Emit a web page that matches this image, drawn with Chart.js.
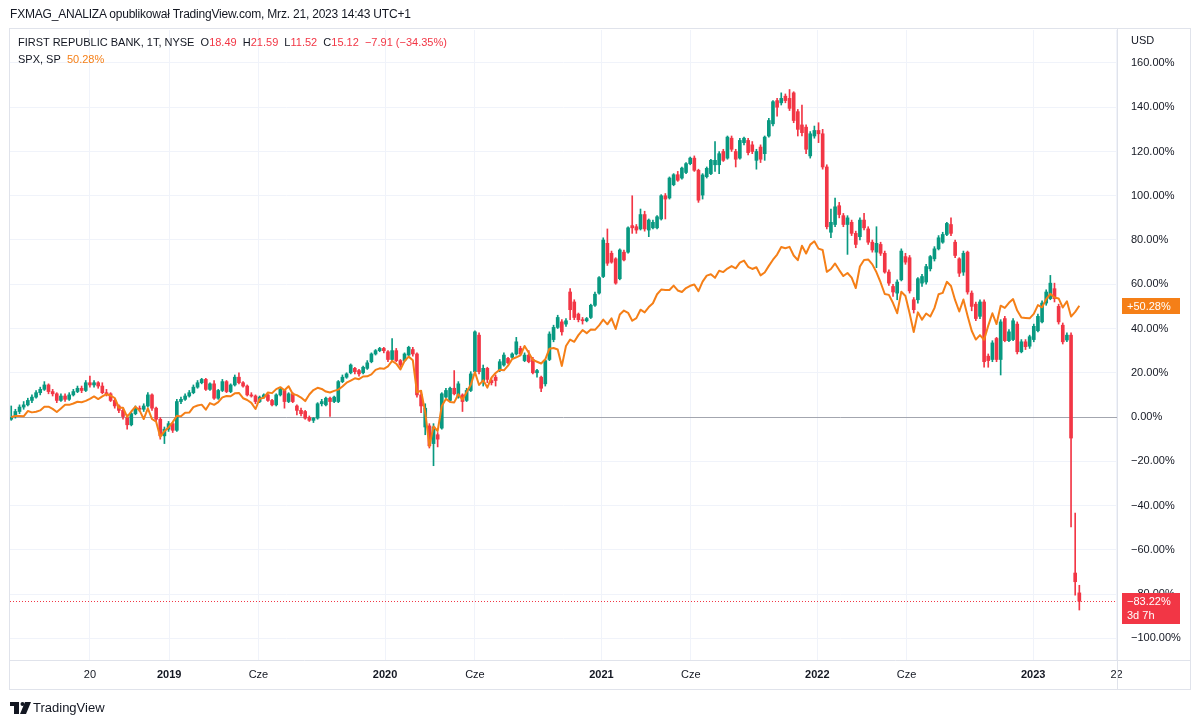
<!DOCTYPE html>
<html><head><meta charset="utf-8">
<script src="https://cdn.jsdelivr.net/npm/chart.js@4.4.1/dist/chart.umd.min.js"></script>
<style>
html,body{margin:0;padding:0;background:#fff;width:1200px;height:725px;overflow:hidden;font-family:"Liberation Sans",Arial,sans-serif;}
#wrap{position:relative;width:1200px;height:725px;}
#c{position:absolute;left:0;top:0;}
.t{position:absolute;white-space:nowrap;color:#131722;line-height:16px;}
.r{color:#F23645;}
.o{color:#F57F17;}
</style></head><body>
<div id="wrap">
<canvas id="c" width="1200" height="725"></canvas>
<div class="t" style="left:10px;top:6px;font-size:12px;letter-spacing:-0.2px;">FXMAG_ANALIZA opublikował TradingView.com, Mrz. 21, 2023 14:43 UTC+1</div>
<div class="t" style="left:18px;top:34px;font-size:11px;">FIRST REPUBLIC BANK, 1T, NYSE&nbsp;&nbsp;O<span class="r">18.49</span>&nbsp;&nbsp;H<span class="r">21.59</span>&nbsp;&nbsp;L<span class="r">11.52</span>&nbsp;&nbsp;C<span class="r">15.12</span>&nbsp;&nbsp;<span class="r">−7.91 (−34.35%)</span></div>
<div class="t" style="left:18px;top:51px;font-size:11px;">SPX, SP&nbsp;&nbsp;<span class="o">50.28%</span></div>
<div class="t" style="left:33px;top:700px;font-size:13px;">TradingView</div>
</div>
<script>
// ---- data (percent change vs first visible weekly close) ----
const startDate = '2018-04-09';
const frcOpen = [
-1,0,2.5,4.5,5.5,7.5,9,11,12.5,14.5,
11.5,10.5,7.5,9.5,8,10,11.5,13,12,15.5,
14.5,15.5,14,11,10.5,7.5,5,3,0,-3.5,
1.5,4,3.5,5,10,4,-1,-8.5,-5.5,-3,
-6,7,8,9.5,11,13.5,15.5,17,12.5,15,
8.5,12,16,11.5,14.5,18,15.5,14,10,9.5,
7,9,10,7.5,5.5,10,12,7,10.5,5,
3,2.5,0,-1.5,-0.5,6,5.5,8.5,7,7,
16,18,20,22,21,20,22,25,28.5,30,
31,29.5,26,30,25.5,25.5,28,30.5,28.5,10,
-4.5,-4,-12,-8,-5,9,7.5,13,9,10,
7.5,12,20.5,37,16,22,16.5,18,21,23.5,
26.5,27,28.5,31,25.5,28,26,20,18,15,
26,35,40.5,43,42,56.5,52,46.5,44,43.5,
45,50.5,56,63.5,78.5,74,71.5,62.5,74.5,74.5,
86.5,86,85,91.5,84.5,85.5,85.5,89.5,100,99,
105,109.5,108,110.5,114.5,117,111.5,100.3,108.6,110,
114,114,120,117,126,120,117,124,125,123,
116,122,119,127,132.5,143,142,145,144,146.5,
138,132,131,118,127,129.5,128,113,83.5,87,
95.5,91,87,88,83,81.5,89,85,79,74.5,
78,74,65.5,59,56,62,72.5,72,53,53,
60.5,61,67,71.5,76,79,82.5,87,79,71.5,
65.5,74.5,56,51,45.5,52,27.5,26,35.5,26,
44.5,34.5,35,42,29.5,34,32,35,39,43,
51.5,53.5,58,50,41.5,34.8,37,-70.5,-79.47];
const frcHigh = [
5,3.5,5.5,7,8.5,10,12,13.5,16,15,
12.5,11,10.5,10.5,11,12.5,14,14,16.5,18.5,
16.5,16,15.5,12.5,11,8,5.5,3.5,1,2,
5,5,6,11,10.5,4.5,0,-4.5,-2,-2.5,
8,9,10.5,12,14.5,16.5,17.5,17.5,15.5,16.5,
12.5,17,16.5,15,19,20,16,14.5,11,10,
9.5,10.5,10.5,8,10.5,13,12.5,11,11,5.5,
4,3,0.5,0,6.5,8,9,9,9.5,16.5,
19,20,24,22.5,21.5,23,25.5,29,30.5,31.5,
31.5,30,35.5,31,26,29,32,31.5,29,12,
6,-3,-3,-7,11,13,13.5,21,16,10.5,
13,20.5,39,38,23.5,22.5,17.5,19,26,29,
27,29,36,32,29,30,27,21.5,18.5,26,
38.5,41.5,46,44,44.5,58,53,47,45,45,
51,56.5,63.5,81,85,75,72,76,75.5,86,
100,87,94,93,89.5,89,91,100.5,101,108.5,
110,111,113,115,117.5,118,112,110,113,116.5,
124.5,120,121,127,127,121,126,126.5,126,124.5,
121,123,127,135,143,144,146.5,146,148,147,
139,141,132,129,131.5,133,130,114,94,99,
97,92,91,89,84,90,92,86,80,86,
79,75,66.5,60,62,76,74,73,54,63,
64.5,69,73,77,82,83.5,88,90,80,72,
75,75,57,52,53,53,28.5,34.5,36,44,
45.5,39.5,44.5,43,35,35,37,42,46.5,52.5,
57.5,64,60.5,51,42.5,38,38,-43.4,-76.03];
const frcLow = [
-1.5,-0.5,1.5,3.5,5,6.5,8.5,10,12,10.5,
9.5,6.5,7,7,7.5,9.5,11,11,11.5,13.5,
13.5,13,10.5,9.5,7,4,2,-1,-5.5,-4,
1,2.5,2.5,4.5,3,-2,-10,-12,-6.5,-7,
-6.5,6,7.5,9,10.5,13,15,12,12,8,
8,11.5,11,11,14,15,13.5,9.5,9,6,
6.5,8.5,7,5,5,9.5,4,6.5,6.5,1,
0.5,-1,-2,-2.5,-1,5,5,0,6.5,6.5,
15.5,17.5,19.5,19.5,18.5,19.5,21.5,24.5,28,29.5,
29,25,25.5,25,22.5,25,27.5,27.5,9,2,
-8,-14,-22,-13.5,-5.5,8.5,7,10,8.5,2.5,
7,11.5,20,19.5,14,15.5,14.5,14,20.5,23,
24,26.5,28,28,25,24.5,19.5,18,11.5,14,
25.5,34,40,37,41,44,44,43,42,43,
44.5,50,55.5,63,68.5,69.5,60,62,70.5,74,
83,83,84.5,84,81.5,85,85,89,89.5,98.5,
104.5,106.5,107.5,110,114,111,97,98.5,108,109.5,
111,110,115.5,116.5,120,113,116.5,123,118.5,119,
112,115,116,126.5,131.5,136,141,142,138.5,133,
127,127,119,117,126,124,112,85,81,86,
90,86,73.5,82,76.5,80,84.5,78,74.5,67.5,
73,65,59.5,54.5,53,61.5,69,56,47,51.5,
59,60,66,70.5,75.5,78.5,82,82,72,63.5,
64,55.5,48,43.5,44.5,22.5,22.5,25,25,19,
34,34,34.5,28.5,29,30.5,31,34,38.5,42.5,
50.5,53,52,42,33,34,-49.7,-80.5,-87.21];
const frcClose = [
0,2.5,4.5,5.5,7.5,9,11,12.5,14.5,11.5,
10.5,7.5,9.5,8,10,11.5,13,12,15.5,14.5,
15.5,14,11,10.5,7.5,5,3,0,-3.5,1.5,
4,3.5,5,10,4,-1,-8.5,-5.5,-3,-6,
7,8,9.5,11,13.5,15.5,17,12.5,15,8.5,
12,16,11.5,14.5,18,15.5,14,10,9.5,7,
9,10,7.5,5.5,10,12.5,7,10.5,7,3,
1.5,-0.5,-1.5,-0.5,6,7,8.5,7,9,16,
18,19.5,23.5,20.5,19.5,22.5,24.5,28.5,30,31,
30,26,30,25.5,23.5,28.5,31.5,28.5,10,5,
4,-13,-4.5,-10,10.5,12,13,10.5,15,7,
12,19.5,38.5,20.5,22,17,15.5,16.5,25,28,
24.5,28.5,34,28.5,28,25,20,21,13,25.5,
37.5,40.5,45,38.5,43.5,48.5,45,44,43.5,44.5,
50.5,55.5,63,80,69.5,70,60.5,75.5,71,85.5,
85.5,84.5,91.5,85,89,88,90.5,100,98.5,108,
109.5,107,112.5,114.5,117,111.5,98,109.4,112.4,116,
116,119,116,126.5,121,116.5,125,126,119.5,120,
120,116.5,126.5,134,142.5,140,144,143,139.5,134,
130,128.5,121,128,129.5,128,113,86,88,95,
91.5,87,90,83,78,89,85.5,79,75.5,78.5,
74,65.5,60.5,56.5,61,75,70,57,48.5,62.5,
63.5,68,72.5,76,81,82.5,87.5,83,73,65,
74,56.5,50,44.5,52,25,25.5,33.5,26,43,
34.5,38.5,43.5,29.5,34,31.8,36.3,41,45.5,51.5,
56.5,60.5,53.5,43,34,37,-9.5,-74.43,-83.22];
const spxPct = [
0,0.5,0.5,0.3,2.7,2.1,2.4,3.0,4.6,4.7,
3.7,2.3,3.9,5.5,5.5,6.1,6.9,6.7,7.3,8.2,
9.3,8.1,9.3,10.3,9.7,8.6,4.2,4.2,0.1,2.5,
4.7,3.0,-0.9,3.9,-0.9,-2.1,-9.0,-6.4,-4.7,-2.3,
0.6,0.3,1.9,2.0,4.5,5.2,5.6,3.3,6.3,5.5,
6.7,8.9,9.5,9.4,10.7,10.9,8.5,7.7,6.4,3.6,
8.2,8.7,11.1,10.8,12.6,13.5,12.1,13.9,10.4,9.9,
8.8,7.2,10.2,12.2,13.2,12.7,11.5,11.1,11.8,12.4,
13.8,15.5,16.5,17.5,17.1,18.3,18.4,19.3,21.3,22.0,
21.8,22.9,25.4,24.1,21.5,25.3,27.3,25.7,11.2,11.9,
2.1,-13.2,-4.3,-6.3,5.0,8.2,6.8,6.6,10.3,7.8,
11.3,14.6,20.3,14.5,16.6,13.3,17.8,19.9,21.4,21.1,
23.2,26.2,27.0,27.9,32.1,29.0,25.8,25.0,24.2,26.1,
30.9,31.2,30.5,23.1,32.1,35.0,34.0,37.0,39.3,37.9,
39.6,39.4,41.4,44.0,41.9,44.6,39.8,46.3,48.1,47.1,
43.5,44.7,48.5,47.3,49.7,51.4,55.5,57.6,57.4,57.4,
59.4,57.2,56.5,58.3,59.3,59.9,56.9,61.2,63.9,64.5,
62.9,66.1,65.5,67.1,68.2,67.2,69.8,70.7,67.9,66.9,
67.7,64.0,65.3,68.3,71.1,73.4,76.8,76.3,76.9,73.0,
70.9,77.4,73.9,77.9,79.4,76.1,75.5,65.6,66.9,69.4,
66.4,63.7,65.1,63.0,58.3,68.0,71.0,71.2,69.0,65.4,
60.8,55.6,55.2,51.5,46.9,56.6,54.7,46.9,38.4,47.3,
44.0,46.8,45.4,49.2,55.5,56.1,61.1,59.2,52.8,47.7,
53.1,45.8,39.0,35.0,37.0,34.9,41.3,46.9,42.0,50.3,
49.3,51.6,53.3,48.1,45.0,44.8,44.6,46.6,50.6,49.6,
53.3,55.7,54.0,53.6,49.5,52.3,45.4,47.5,50.28];
const timeTickDates = ['2018-08-20','2019-01-01','2019-06-01','2020-01-01','2020-06-01','2021-01-01','2021-06-01','2022-01-01','2022-06-01','2023-01-01','2023-05-22'];
const timeTickLabels = ['20','2019','Cze','2020','Cze','2021','Cze','2022','Cze','2023','22'];
const timeTickBold = [false,true,false,true,false,true,false,true,false,true,false];
const priceTicks = [-100,-80,-60,-40,-20,0,20,40,60,80,100,120,140,160];
const lastBarCountdown = '3d 7h';
const priceUnit = 'USD';

// ---- styling ----
const UP = '#089981', DOWN = '#F23645', SPXC = '#F57F17';
const GRID = '#f0f3fa', FRAME = '#e0e3eb', TXT = '#131722';
const FONT = '"Liberation Sans", Arial, sans-serif';

const weekIdx = d => (Date.parse(d) - Date.parse(startDate)) / (7 * 864e5);
const fmtPct = v => (v < 0 ? '\u2212' : (v > 0 ? '+' : '')) + Math.abs(v).toFixed(2) + '%';
const fmtTick = v => (v < 0 ? '\u2212' : '') + Math.abs(v).toFixed(2) + '%';

const candleColor = frcClose.map((c, i) => c >= frcOpen[i] ? UP : DOWN);
const bodies = frcClose.map((c, i) => ({x: i, y: [frcOpen[i], c]}));
const wicks = frcClose.map((c, i) => ({x: i, y: [frcLow[i], frcHigh[i]]}));
const spxPts = spxPct.map((v, i) => ({x: i, y: v}));

const overlay = {
  id: 'overlay',
  beforeDatasetsDraw(chart) {
    const {ctx, chartArea: a, scales: {y}} = chart;
    const last = frcClose[frcClose.length - 1];
    const yl = Math.round(y.getPixelForValue(last)) + 0.5;
    ctx.save();
    ctx.strokeStyle = DOWN; ctx.lineWidth = 1; ctx.setLineDash([1, 2]);
    ctx.beginPath(); ctx.moveTo(a.left, yl); ctx.lineTo(a.right, yl); ctx.stroke();
    ctx.restore();
  },
  afterDraw(chart) {
    const {ctx, chartArea: a, scales: {y}} = chart;
    ctx.save();
    // frame
    ctx.strokeStyle = FRAME; ctx.lineWidth = 1;
    ctx.strokeRect(9.5, 28.5, 1181, 661);
    ctx.beginPath(); ctx.moveTo(a.right + 0.5, 28); ctx.lineTo(a.right + 0.5, 690); ctx.stroke();
    ctx.beginPath(); ctx.moveTo(9, a.bottom + 0.5); ctx.lineTo(1191, a.bottom + 0.5); ctx.stroke();
    // unit
    ctx.fillStyle = TXT; ctx.font = '11px ' + FONT; ctx.textBaseline = 'middle'; ctx.textAlign = 'left';
    ctx.fillText(priceUnit, a.right + 14, 41);
    // spx label
    const sv = spxPct[spxPct.length - 1];
    const ys = Math.round(y.getPixelForValue(sv));
    ctx.fillStyle = SPXC; ctx.fillRect(a.right + 5, ys - 8, 58, 16);
    ctx.fillStyle = '#fff'; ctx.fillText(fmtPct(sv), a.right + 10, ys + 0.5);
    // frc label
    const fv = frcClose[frcClose.length - 1];
    const yf = Math.round(y.getPixelForValue(fv));
    ctx.fillStyle = DOWN; ctx.fillRect(a.right + 5, yf - 8, 58, 31);
    ctx.fillStyle = '#fff';
    ctx.fillText(fmtPct(fv), a.right + 10, yf + 0.5);
    ctx.fillText(lastBarCountdown, a.right + 10, yf + 15);
    // TradingView logo mark
    ctx.fillStyle = TXT;
    ctx.fillRect(10, 702, 9, 4);
    ctx.fillRect(14, 702, 5, 12);
    ctx.beginPath(); ctx.arc(22.5, 704, 2, 0, Math.PI * 2); ctx.fill();
    ctx.beginPath(); ctx.moveTo(25, 702); ctx.lineTo(31, 702); ctx.lineTo(26, 714); ctx.lineTo(20, 714); ctx.closePath(); ctx.fill();
    ctx.restore();
  }
};

new Chart(document.getElementById('c'), {
  type: 'bar',
  data: {
    datasets: [
      {type: 'line', data: spxPts, borderColor: SPXC, borderWidth: 2, pointRadius: 0, tension: 0, order: 0, borderJoinStyle: 'round'},
      {data: bodies, backgroundColor: candleColor, barThickness: 3, minBarLength: 1, grouped: false, order: 1},
      {data: wicks, backgroundColor: candleColor, barThickness: 1, grouped: false, order: 2}
    ]
  },
  options: {
    responsive: false, animation: false, devicePixelRatio: 1,
    layout: {padding: {left: 10, top: 30, right: 10, bottom: 36}},
    plugins: {legend: {display: false}, tooltip: {enabled: false}},
    scales: {
      x: {
        type: 'linear', min: -0.3, max: 267.1, offset: false,
        afterBuildTicks: s => { s.ticks = timeTickDates.map(d => ({value: weekIdx(d)})); },
        afterFit: s => { s.height = 29; },
        grid: {color: GRID, drawTicks: false, offset: false},
        border: {display: false},
        ticks: {
          autoSkip: false, maxRotation: 0, padding: 8, color: TXT,
          callback: (v, i) => timeTickLabels[i],
          font: c => ({family: FONT, size: 11, weight: timeTickBold[c.index] ? 'bold' : 'normal'})
        }
      },
      y: {
        position: 'right', min: -109.8, max: 174.9,
        afterBuildTicks: s => { s.ticks = priceTicks.map(v => ({value: v})); },
        afterFit: s => { s.width = 73; },
        grid: {color: c => (c.tick && c.tick.value === 0) ? '#a3a6af' : GRID, drawTicks: false, offset: false},
        border: {display: false},
        ticks: {padding: 14, color: TXT, font: {family: FONT, size: 11}, callback: v => fmtTick(v)}
      }
    }
  },
  plugins: [overlay]
});
</script>
</body></html>
